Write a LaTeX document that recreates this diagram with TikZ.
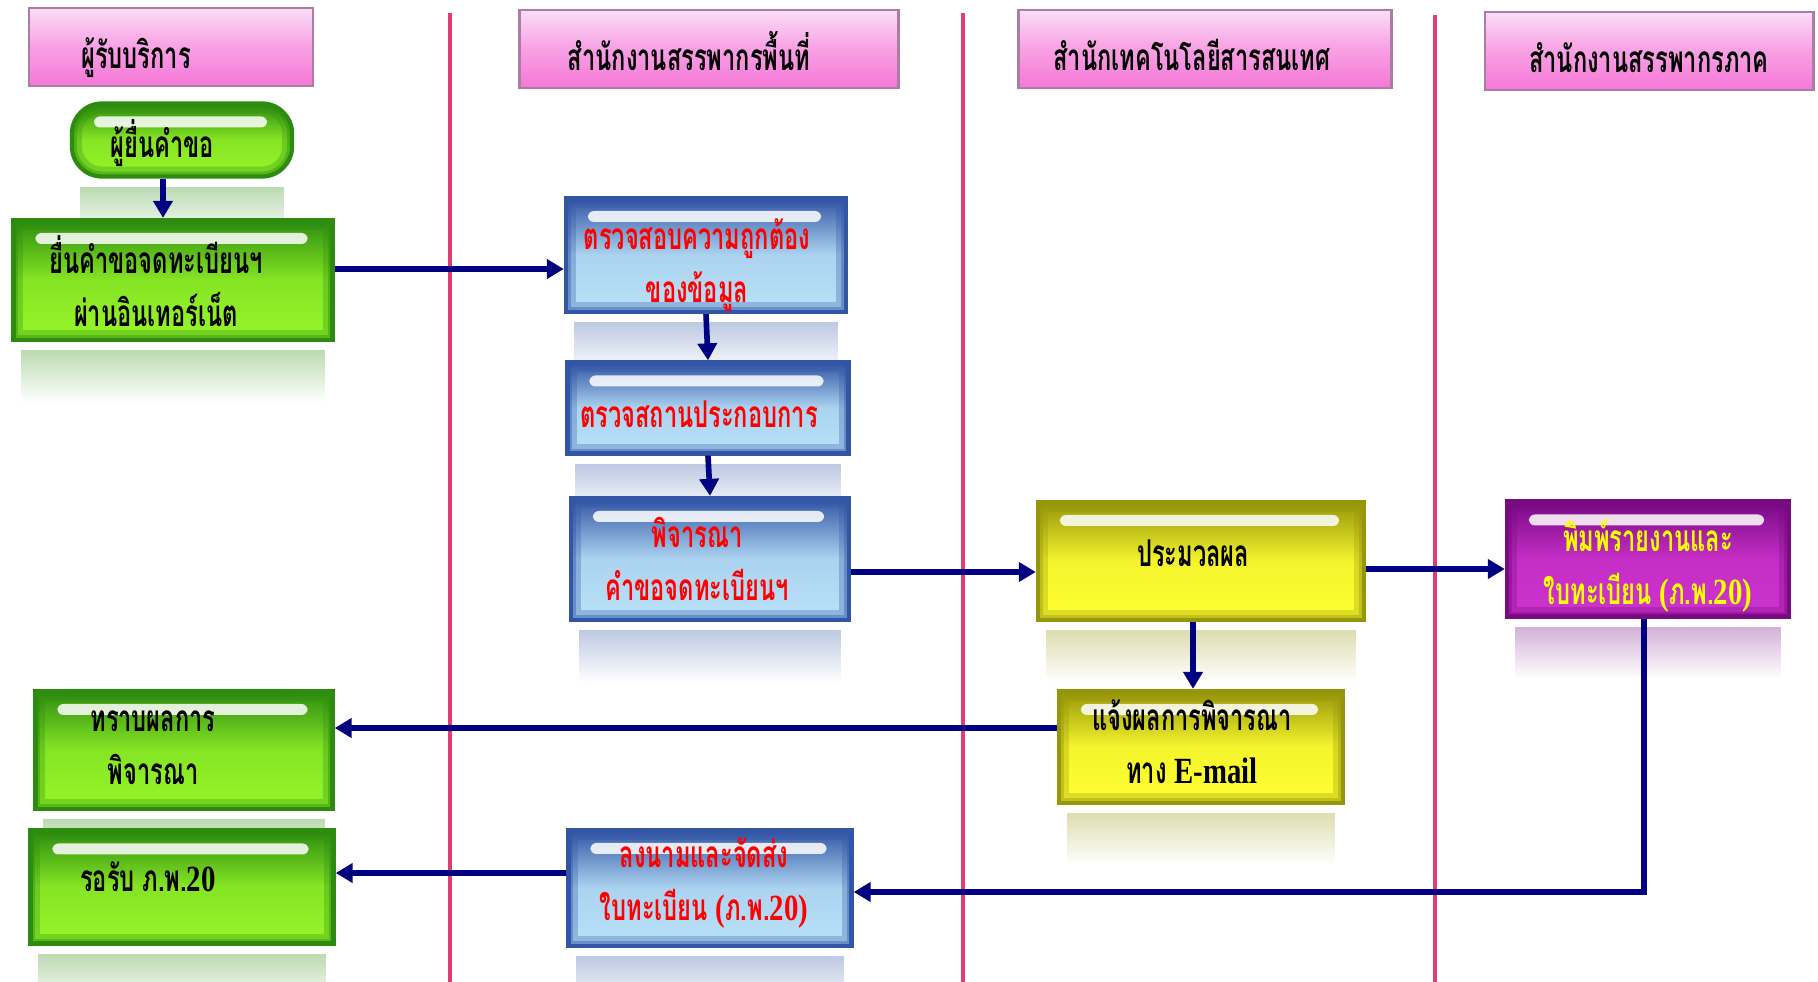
\documentclass[tikz,border=0pt]{standalone}
\usepackage{fontspec}
\usepackage{tikz}
\usetikzlibrary{positioning,arrows.meta,calc,fadings,backgrounds}
\newfontfamily\thaifont[Script=Thai,FakeStretch=0.64]{Loma}
\newfontfamily\latfont[FakeStretch=0.78]{Liberation Serif}
\newcommand{\en}[1]{{\latfont\bfseries #1}}
\definecolor{navy}{RGB}{0,0,128}
\definecolor{lanered}{RGB}{225,60,120}
\definecolor{hdrtop}{RGB}{250,222,246}
\definecolor{hdrmid}{RGB}{248,160,228}
\definecolor{hdrbot}{RGB}{245,120,215}
\definecolor{hdredge}{RGB}{170,125,165}
\definecolor{gedge}{RGB}{45,140,15}
\definecolor{glight}{RGB}{150,245,40}
\definecolor{bedge}{RGB}{50,85,165}
\definecolor{blight}{RGB}{185,225,248}
\definecolor{yedge}{RGB}{150,150,10}
\definecolor{ylight}{RGB}{255,255,50}
\definecolor{pedge}{RGB}{120,10,130}
\definecolor{plight}{RGB}{205,50,205}
\definecolor{redtxt}{RGB}{255,0,0}
\definecolor{yeltxt}{RGB}{255,255,0}

\begin{document}
\begin{tikzpicture}[x=0.01cm,y=-0.01cm,font=\thaifont\bfseries\fontsize{10.5}{13}\selectfont,
  hdr/.style={draw=hdredge,line width=0.8pt,top color=hdrtop,bottom color=hdrbot,middle color=hdrmid,minimum height=0.78cm,inner sep=0pt,text height=0.52cm,text depth=0.1cm},
  glass/.style={draw=#1,line width=1.2pt,inner sep=0pt,align=center,text depth=0.1cm,
    path picture={
      \draw[#1,opacity=.3,line width=0.2cm] (path picture bounding box.south west) rectangle (path picture bounding box.north east);
      \draw[#1,opacity=.4,line width=0.1cm] (path picture bounding box.south west) rectangle (path picture bounding box.north east);
      \fill[white,opacity=.85,rounded corners=0.06cm] ([xshift=0.22cm,yshift=-0.13cm]path picture bounding box.north west) rectangle ([xshift=-0.25cm,yshift=-0.24cm]path picture bounding box.north east);}},
  gbox/.style={glass=gedge,top color=gedge,bottom color=glight,middle color=glight!85!gedge},
  bbox/.style={glass=bedge,top color=bedge,bottom color=blight,middle color=blight!90!bedge,text=redtxt},
  ybox/.style={glass=yedge,top color=yedge,bottom color=ylight,middle color=ylight!90!yedge},
  pbox/.style={glass=pedge,top color=pedge,bottom color=plight,middle color=plight!90!pedge,text=yeltxt},
  arr/.style={-{Triangle[length=0.17cm,width=0.19cm]},line width=1.6pt,draw=navy},
  lane/.style={draw=lanered,line width=1.2pt}]
\useasboundingbox (0,0) rectangle (1818,982);
\draw[lane] (450,13) -- (450,982);
\draw[lane] (963,13) -- (963,982);
\draw[lane] (1435,15) -- (1435,982);
\node[hdr,minimum width=2.84cm] (h1) at (171,47) {ผู้รับบริการ\hspace*{0.7cm}};
\node[hdr,minimum width=3.79cm] (h2) at (709,49) {สำนักงานสรรพากรพื้นที่\hspace*{0.4cm}};
\node[hdr,minimum width=3.73cm] (h3) at (1205,49) {สำนักเทคโนโลยีสารสนเทศ\hspace*{0.26cm}};
\node[hdr,minimum width=3.28cm] (h4) at (1649,51) {สำนักงานสรรพากรภาค};
\node[gbox,rounded corners=0.3cm,minimum width=2.2cm,minimum height=0.73cm,text height=0.44cm] (req) at (182,140) {ผู้ยื่นคำขอ\hspace*{0.4cm}};
\node[gbox,text height=1.02cm,minimum width=3.19cm,minimum height=1.2cm] (apply) at (173,280) {ยื่นคำขอจดทะเบียนฯ\hspace*{0.34cm}\\[2pt]ผ่านอินเทอร์เน็ต\hspace*{0.34cm}};
\node[bbox,text height=1.04cm,minimum width=2.8cm,minimum height=1.12cm] (check) at (706,255) {ตรวจสอบความถูกต้อง\hspace*{0.18cm}\\[2pt]ของข้อมูล\hspace*{0.18cm}};
\node[bbox,text height=0.48cm,minimum width=2.81cm,minimum height=0.91cm] (visit) at (708,408) {ตรวจสถานประกอบการ\hspace*{0.18cm}};
\node[bbox,text height=0.92cm,minimum width=2.78cm,minimum height=1.22cm] (judge) at (710,559) {พิจารณา\hspace*{0.26cm}\\[2pt]คำขอจดทะเบียนฯ\hspace*{0.26cm}};
\node[ybox,text height=0.2cm,minimum width=3.26cm,minimum height=1.18cm] (proc) at (1201,561) {ประมวลผล\hspace*{0.16cm}};
\node[pbox,text height=1.0cm,minimum width=2.82cm,minimum height=1.15cm] (print) at (1648,559) {พิมพ์รายงานและ\\[2pt]ใบทะเบียน \en{(}ภ.พ.\en{20)}};
\node[ybox,text height=0.82cm,minimum width=2.84cm,minimum height=1.12cm] (mail) at (1201,747) {แจ้งผลการพิจารณา\hspace*{0.18cm}\\[2pt]ทาง \en{E-mail}\hspace*{0.18cm}};
\node[gbox,text height=0.78cm,minimum width=2.97cm,minimum height=1.18cm] (know) at (184,750) {ทราบผลการ\hspace*{0.62cm}\\[2pt]พิจารณา\hspace*{0.62cm}};
\node[gbox,text height=0.18cm,minimum width=3.03cm,minimum height=1.13cm] (wait) at (182,887) {รอรับ ภ.พ.\en{20}\hspace*{0.68cm}};
\node[bbox,text height=0.74cm,minimum width=2.83cm,minimum height=1.16cm] (sign) at (710,888) {ลงนามและจัดส่ง\hspace*{0.12cm}\\[2pt]ใบทะเบียน \en{(}ภ.พ.\en{20)}\hspace*{0.12cm}};
\begin{scope}[on background layer]
\foreach \n/\c in {req/gedge,apply/gedge,know/gedge,wait/gedge,check/bedge,visit/bedge,judge/bedge,sign/bedge,proc/yedge,mail/yedge,print/pedge}
  \fill[\c,opacity=.32,path fading=south] ([xshift=0.1cm,yshift=-0.08cm]\n.south west) rectangle ([xshift=-0.1cm,yshift=-0.6cm]\n.south east);
\end{scope}
\draw[arr] ([xshift=-0.19cm]req.south) -- ([xshift=-0.19cm]req.south |- apply.north);
\draw[arr] (apply.east |- 0,269) -- (check.west |- 0,269);
\draw[arr] (check.south) -- (visit.north);
\draw[arr] (visit.south) -- (judge.north);
\draw[arr] (judge.east |- 0,572) -- (proc.west |- 0,572);
\draw[arr] (proc.east |- 0,569) -- (print.west |- 0,569);
\draw[arr] (proc.south -| 1193,0) -- (mail.north -| 1193,0);
\draw[arr] (mail.west |- 0,728) -- (know.east |- 0,728);
\draw[arr] (print.south -| 1644,0) |- (sign.east |- 0,892);
\draw[arr] (sign.west |- 0,873) -- (wait.east |- 0,873);
\end{tikzpicture}
\end{document}
